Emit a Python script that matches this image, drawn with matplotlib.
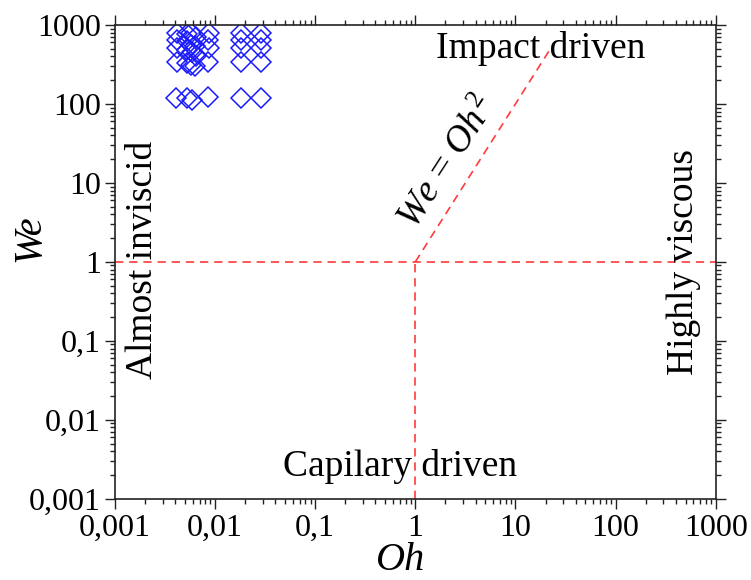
import matplotlib
matplotlib.use("Agg")
import matplotlib.pyplot as plt
from matplotlib.ticker import LogLocator, NullFormatter

plt.rcParams['font.family'] = ['Liberation Serif', 'DejaVu Serif']
plt.rcParams['mathtext.fontset'] = 'custom'
plt.rcParams['mathtext.rm'] = 'Liberation Serif'
plt.rcParams['mathtext.it'] = 'Liberation Serif:italic'

# Data points (Oh, We)
oh_pts = [0.0042, 0.0042, 0.0042, 0.0042, 0.0041,
          0.0052, 0.0053, 0.0052, 0.0053, 0.0052,
          0.0058, 0.0058, 0.0059, 0.0058, 0.0059,
          0.0064, 0.0063, 0.0064, 0.0063,
          0.0087, 0.0086, 0.0087, 0.0086, 0.0086,
          0.018, 0.018, 0.018, 0.018, 0.018,
          0.029, 0.029, 0.029, 0.029, 0.029]
we_pts = [790, 650, 510, 340, 120,
          760, 620, 480, 330, 118,
          800, 560, 450, 310, 112,
          700, 540, 400, 300,
          800, 650, 510, 340, 122,
          800, 650, 510, 340, 120,
          800, 650, 510, 340, 120]

tick_vals = [0.001, 0.01, 0.1, 1, 10, 100, 1000]
tick_labels = ['0,001', '0,01', '0,1', '1', '10', '100', '1000']

# Regime boundaries
h_line_we = 1.0
v_line_oh = 1.0
diag_oh = [1.0, 24.0]
diag_we = [o ** 2 for o in diag_oh]

fig = plt.figure(figsize=(7.51, 5.80), dpi=100)
ax = fig.add_axes([0.153, 0.140, 0.800, 0.817])
ax.set_xscale('log')
ax.set_yscale('log')
ax.set_xlim(0.001, 1000)
ax.set_ylim(0.001, 1000)

red = '#ff3b3b'
dash = (0, (5, 3.5))
ax.plot([0.001, 1000], [h_line_we, h_line_we], color=red, lw=1.2, linestyle=dash)
ax.plot([v_line_oh, v_line_oh], [0.001, 1.0], color=red, lw=1.2, linestyle=dash)
ax.plot(diag_oh, diag_we, color=red, lw=1.2, linestyle=dash)

ax.plot(oh_pts, we_pts, linestyle='none', marker='D', markersize=10,
        markerfacecolor='none', markeredgecolor='#1a1aff', markeredgewidth=1.1)

ax.set_xticks(tick_vals)
ax.set_xticklabels(tick_labels)
ax.set_yticks(tick_vals)
ax.set_yticklabels(tick_labels)
ax.xaxis.set_minor_locator(LogLocator(base=10, subs=range(2, 10)))
ax.yaxis.set_minor_locator(LogLocator(base=10, subs=range(2, 10)))
ax.xaxis.set_minor_formatter(NullFormatter())
ax.yaxis.set_minor_formatter(NullFormatter())
ax.tick_params(which='both', direction='out', top=True, right=True,
               labelsize=23, width=1.0, colors='#222222', labelcolor='black')
ax.tick_params(which='major', length=7)
ax.tick_params(which='minor', length=3.5)
ax.tick_params(axis='x', pad=4)
ax.tick_params(axis='y', pad=3)
for s in ax.spines.values():
    s.set_linewidth(1.2)
    s.set_color('#222222')

fig.text(401 / 751, 1 - 560 / 580, 'Oh', fontsize=29, style='italic',
         ha='center', va='center')
fig.text(30 / 751, 1 - 238 / 580, 'We', fontsize=29, style='italic',
         ha='center', va='center', rotation=90)

fs = 27
ax.text(17.8, 500, 'Impact driven', fontsize=fs, ha='center', va='center')
ax.text(0.71, 0.0026, 'Capilary driven', fontsize=fs, ha='center', va='center')
ax.text(0.0019, 1.05, 'Almost inviscid', fontsize=fs, ha='center', va='center', rotation=90)
ax.text(480, 1.0, 'Highly viscous', fontsize=fs, ha='center', va='center', rotation=90)
ax.text(2.1, 18, r'$We$ = $Oh^2$', fontsize=fs, ha='center', va='center', rotation=57,
        rotation_mode='anchor')

fig.savefig('out.png', dpi=100)
